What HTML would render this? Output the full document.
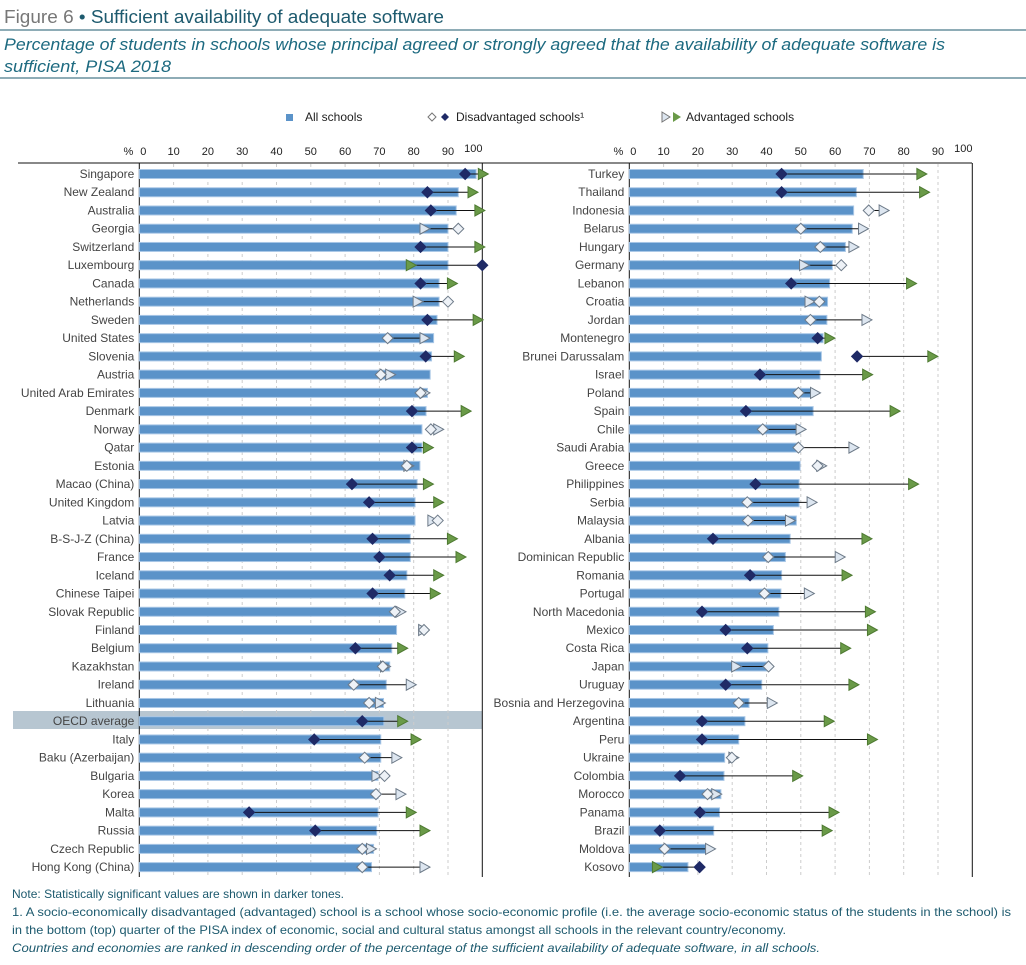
<!DOCTYPE html>
<html><head><meta charset="utf-8"><style>
body{margin:0;background:#fff;width:1026px;height:960px;overflow:hidden;font-family:"Liberation Sans",sans-serif;}
</style></head><body>
<svg id="c" width="1026" height="960" xmlns="http://www.w3.org/2000/svg" style="font-family:'Liberation Sans',sans-serif">
<text x="4" y="23" font-size="18" fill="#777" textLength="440" lengthAdjust="spacingAndGlyphs">Figure 6 <tspan fill="#1d5a6e">• Sufficient availability of adequate software</tspan></text>
<line x1="0" y1="30" x2="1026" y2="30" stroke="#1d5a6e" stroke-width="1"/>
<text x="4" y="50" font-size="17" font-style="italic" fill="#1d6a80" textLength="941" lengthAdjust="spacingAndGlyphs">Percentage of students in schools whose principal agreed or strongly agreed that the availability of adequate software is</text>
<text x="4" y="72" font-size="17" font-style="italic" fill="#1d6a80" textLength="167" lengthAdjust="spacingAndGlyphs">sufficient, PISA 2018</text>
<line x1="0" y1="78" x2="1026" y2="78" stroke="#1d5a6e" stroke-width="1"/>
<g id="legend" font-size="12" fill="#222">
<rect x="286" y="114" width="7" height="7" fill="#5b93c9"/>
<text x="305" y="121">All schools</text>
<path d="M432 113 l4 4 l-4 4 l-4 -4z" fill="#fff" stroke="#777"/>
<path d="M445 113 l4 4 l-4 4 l-4 -4z" fill="#1f2a66"/>
<text x="456" y="121">Disadvantaged schools¹</text>
<path d="M662 112 l8 5 l-8 5z" fill="#dde6f0" stroke="#777"/>
<path d="M673 112 l8 5 l-8 5z" fill="#6a9a48"/>
<text x="686" y="121">Advantaged schools</text>
</g>
<rect x="13" y="711" width="469" height="18" fill="#b7c6d1"/>
<line x1="18" y1="163" x2="972" y2="163" stroke="#111"/>
<g id="plot"></g>
<g font-size="12" fill="#1d5a6e">
<text x="12" y="898" textLength="332" lengthAdjust="spacingAndGlyphs">Note: Statistically significant values are shown in darker tones.</text>
<text x="12" y="916" textLength="999" lengthAdjust="spacingAndGlyphs">1. A socio-economically disadvantaged (advantaged) school is a school whose socio-economic profile (i.e. the average socio-economic status of the students in the school) is</text>
<text x="12" y="934" textLength="774" lengthAdjust="spacingAndGlyphs">in the bottom (top) quarter of the PISA index of economic, social and cultural status amongst all schools in the relevant country/economy.</text>
<text x="12" y="952" font-style="italic" textLength="808" lengthAdjust="spacingAndGlyphs">Countries and economies are ranked in descending order of the percentage of the sufficient availability of adequate software, in all schools.</text>
<text x="12" y="969">Source: OECD, PISA 2018 Database.</text>
</g>
</svg>
<script>
const leftNames=["Singapore","New Zealand","Australia","Georgia","Switzerland","Luxembourg","Canada","Netherlands","Sweden","United States","Slovenia","Austria","United Arab Emirates","Denmark","Norway","Qatar","Estonia","Macao (China)","United Kingdom","Latvia","B-S-J-Z (China)","France","Iceland","Chinese Taipei","Slovak Republic","Finland","Belgium","Kazakhstan","Ireland","Lithuania","OECD average","Italy","Baku (Azerbaijan)","Bulgaria","Korea","Malta","Russia","Czech Republic","Hong Kong (China)"];
const leftAll=[98.2,93,92.4,90,90,90,87.4,87.4,86.8,85.8,85.2,84.8,84,83.6,82.4,82.4,81.8,81,80.4,80.4,79,79,78,77.4,75.2,75,73.6,73,72,71.2,71.3,70.4,70.4,69.6,69.6,69.6,69.2,68.3,67.7];
const leftDis=[95,84,85,93,82,100,82,90,84,72.4,83.5,70.4,82,79.5,85,79.5,78,62,67,87,68,70,73,68,74.5,83,63,71,62.5,67,65,51,65.7,71.5,69,32,51.3,65,65];
const leftAdv=[100,97,99,83,99,79,91,81,98.5,83,93,73,83,95,87,84,78.3,84,87,85.3,91,93.5,87,86,76,82.6,76.5,71.5,79,70,76.5,80.4,74.8,69,76,79,83,67.4,83];
const leftDisSig=[1,1,1,0,1,1,1,0,1,0,1,0,0,1,0,1,0,1,1,0,1,1,1,1,0,0,1,0,0,0,1,1,0,0,0,1,1,0,0];
const leftAdvSig=[1,1,1,0,1,1,1,0,1,0,1,0,0,1,0,1,0,1,1,0,1,1,1,1,0,0,1,0,0,0,1,1,0,0,0,1,1,0,0];
const rightNames=["Turkey","Thailand","Indonesia","Belarus","Hungary","Germany","Lebanon","Croatia","Jordan","Montenegro","Brunei Darussalam","Israel","Poland","Spain","Chile","Saudi Arabia","Greece","Philippines","Serbia","Malaysia","Albania","Dominican Republic","Romania","Portugal","North Macedonia","Mexico","Costa Rica","Japan","Uruguay","Bosnia and Herzegovina","Argentina","Peru","Ukraine","Colombia","Morocco","Panama","Brazil","Moldova","Kosovo"];
const rightAll=[68.2,66.2,65.4,65,63,59.2,58.4,57.8,57.6,56.5,56,55.6,53.2,53.6,49.8,49.8,49.8,49.5,49.5,48.7,46.9,45.5,44.4,44.2,43.6,42,40.4,40.4,38.6,34.9,33.7,31.9,27.8,27.6,26.7,26.3,24.6,22.2,17.1];
const rightDis=[44.4,44.4,69.8,50,55.7,61.8,47.2,55.4,52.8,54.9,66.4,38.1,49.3,34,38.9,49.3,54.9,36.8,34.4,34.6,24.4,40.5,35.2,39.4,21.2,28.1,34.4,40.6,28.1,31.9,21.2,21.2,29.9,14.8,22.8,20.6,8.9,10.3,20.5];
const rightAdv=[85,85.8,74,68,65.2,50.8,82,52.4,69,58.2,88.2,69.2,54,77.2,49.8,65.2,55.8,82.6,53,46.7,69,61.2,63.2,52.2,70,70.6,62.8,31,65.2,41.4,58,70.6,30.2,48.8,25.2,59.4,57.4,23.4,7.9];
const rightDisSig=[1,1,0,0,0,0,1,0,0,1,1,1,0,1,0,0,0,1,0,0,1,0,1,0,1,1,1,0,1,0,1,1,0,1,0,1,1,0,1];
const rightAdvSig=[1,1,0,0,0,0,1,0,0,1,1,1,0,1,0,0,0,1,0,0,1,0,1,0,1,1,1,0,1,0,1,1,0,1,0,1,1,0,1];
const ticks=[0,10,20,30,40,50,60,70,80,90,100];

const NS="http://www.w3.org/2000/svg";
const plot=document.getElementById('plot');
function mk(tag,attrs,parent){const e=document.createElementNS(NS,tag);for(const k in attrs)e.setAttribute(k,attrs[k]);(parent||plot).appendChild(e);return e;}
function panel(x0,names,all,dis,adv,dSig,aSig,side){
  const sx=v=>x0+v*3.43;
  const sy=i=>174+i*18.24;
  const g=mk('g',{});
  
  
  ticks.forEach(t=>{
    if(t>0&&t<100){const l=mk('line',{x1:sx(t),x2:sx(t),y1:164,y2:877,stroke:'#ccc','stroke-dasharray':'3,3'},g);
      
      }
    const tx=mk('text',{x:sx(t)+(t==0?4:t==100?-9:0),y:t==100?152:155,'font-size':11,fill:'#222','text-anchor':'middle'},g);
    tx.textContent=t;
    
    
  });
  const pc=mk('text',{x:sx(0)-6,y:155,'font-size':11,fill:'#222','text-anchor':'end'},g);pc.textContent='%';
  
  
  const ax=mk('line',{x1:sx(0),x2:sx(0),y1:163,y2:877,stroke:'#111'},g);
  
  
  const rb=mk('line',{x1:sx(100),x2:sx(100),y1:163,y2:877,stroke:'#111'},g);
  
  
  names.forEach((n,i)=>{
    const y=sy(i);
    const lb=mk('text',{x:sx(0)-5,y:y+4,'font-size':12,fill:'#444','text-anchor':'end'},g);lb.textContent=n;
    
    
    const b=mk('rect',{x:sx(0),y:y-4.5,width:sx(all[i])-sx(0),height:9,fill:'#5b93c9',stroke:'#a9c7e6','stroke-width':1},g);
    
    
    const ln=mk('line',{x1:sx(dis[i]),x2:sx(adv[i]),y1:y,y2:y,stroke:'#111','stroke-width':1},g);
    
    
    const ax2=sx(adv[i]);
    const tr=mk('path',{d:`M${ax2-4} ${y-5.5} L${ax2+6} ${y} L${ax2-4} ${y+5.5}Z`,fill:aSig[i]?'#6a9a48':'#dde6f0',stroke:aSig[i]?'#4e7a32':'#6d7a88','stroke-width':1},g);
    
    
    const dx=sx(dis[i]);
    const dm=mk('path',{d:`M${dx} ${y-5.5} L${dx+5.5} ${y} L${dx} ${y+5.5} L${dx-5.5} ${y}Z`,fill:dSig[i]?'#1f2a66':'#eef2f7',stroke:dSig[i]?'#1f2a66':'#6d7a88','stroke-width':1},g);
    
    
  });
}
panel(139.3,leftNames,leftAll,leftDis,leftAdv,leftDisSig,leftAdvSig,'left');
panel(629.3,rightNames,rightAll,rightDis,rightAdv,rightDisSig,rightAdvSig,'right');
</script>
</body></html>
